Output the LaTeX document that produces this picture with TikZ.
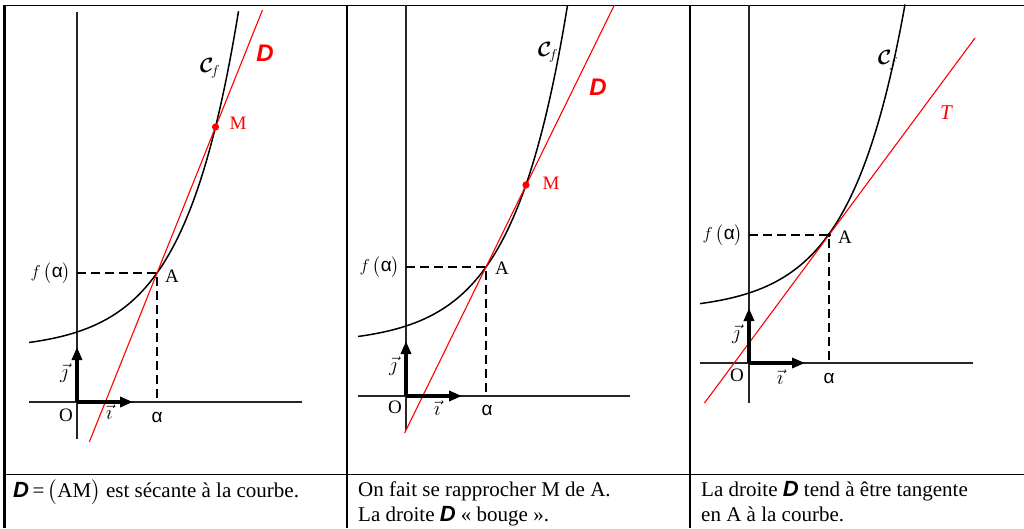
\documentclass[tikz,border=0pt]{standalone}
\usepackage{amsmath}
\usepackage{fontspec}
\setmainfont{Liberation Serif}
\newfontfamily\dsans{Liberation Sans}
\usetikzlibrary{arrows.meta}
\newcommand{\Dsym}[1]{{\dsans\bfseries\itshape\fontsize{#1}{#1}\selectfont D}}
\newcommand{\Cf}{$\boldsymbol{\mathcal{C}}_{\!f}$}
\newcommand{\alp}{{\dsans α}}
\newcommand{\fal}{$f$\,$\bigl($\alp$\bigr)$}
\newcommand{\vi}{$\vec{\imath}$}
\newcommand{\vj}{$\vec{\jmath}$}
\begin{document}
\begin{tikzpicture}[x=1pt,y=-1pt, line join=round,
 axis/.style={line width=1.2pt, draw=black!85},
 curve/.style={line width=1.5pt},
 redline/.style={line width=1.1pt, draw=red},
 dashline/.style={line width=2.8pt, dash pattern=on 9pt off 5pt},
 vect/.style={line width=3.3pt, -{Triangle[length=13pt,width=10pt]}},
 lbl/.style={font=\fontsize{19}{19}\selectfont, inner sep=0pt},
 vlbl/.style={font=\fontsize{21}{21}\selectfont, inner sep=0pt},
 cflbl/.style={font=\fontsize{21}{21}\selectfont, inner sep=0pt},
 txt/.style={font=\fontsize{21}{25}\selectfont, inner sep=0pt, anchor=base west},
 frame/.style={line width=1.1pt},
 mdot/.style={fill=red, draw=none}]
\useasboundingbox (0,0) rectangle (1024,528);

% table frame
\coordinate (TL) at (4.7,4.5);
\coordinate (BL) at (4.7,528);
\coordinate (TL2) at (3.5,5.5);
\coordinate (TR) at (1024,5.5);
\coordinate (C1t) at (347,5);
\coordinate (C1b) at (347,528);
\coordinate (C2t) at (690,5);
\coordinate (C2b) at (690,528);
\coordinate (Rl) at (4,474.5);
\coordinate (Rr) at (1024,474.5);
\draw[line width=2.5pt] (BL) -- (TL);
\draw[line width=1.7pt] (TL2) -- (TR);
\draw[frame] (C1t) -- (C1b);
\draw[frame] (C2t) -- (C2b);
\draw[frame] (Rl) -- (Rr);

% ---------- panel 1 ----------
\begin{scope}[shift={(77,402)},yscale=-1]
  \coordinate (O1) at (0,0);
  \coordinate (Yb1) at (0,-37);
  \coordinate (Yt1) at (0,390);
  \coordinate (Xl1) at (-48,0);
  \coordinate (Xr1) at (225,0);
  \coordinate (I1) at (56,0);
  \coordinate (J1) at (0,55);
  \coordinate (A1) at (80,129);
  \coordinate (FA1) at (0,129);
  \coordinate (XA1) at (80,0);
  \coordinate (M1) at (138.5,275);
  \coordinate (D1s) at (12.3,-40);
  \coordinate (D1e) at (185.5,392);
  \draw[axis] (Xl1) -- (Xr1);
  \draw[axis] (Yb1) -- (Yt1);
  \draw[curve] plot[domain=-48:161.5,samples=120] (\x,{52+18*exp(0.018167*\x)});
  \draw[dashline] (FA1) -- (A1) -- (XA1);
  \draw[redline] (D1s) -- (D1e);
  \draw[vect] (O1) -- (I1);
  \draw[vect] (O1) -- (J1);
  \fill[mdot] (M1) circle (3.6pt);
\end{scope}
\node[lbl] (o1) at (66,415) {O};
\node[vlbl] (i1) at (109,412) {\vi};
\node[vlbl] (j1) at (64,373) {\vj};
\node[lbl] (al1) at (157,417) {\alp};
\node[lbl, anchor=east] (fa1) at (71,273) {\fal};
\node[lbl] (a1) at (172,276) {A};
\node[lbl, text=red] (m1) at (238,123) {M};
\node[inner sep=0pt, text=red] (d1) at (265,53) {\Dsym{24}};
\node[cflbl] (cf1) at (210,68) {\Cf};

% ---------- panel 2 ----------
\begin{scope}[shift={(406,396)},yscale=-1]
  \coordinate (O2) at (0,0);
  \coordinate (Yb2) at (0,-34);
  \coordinate (Yt2) at (0,391);
  \coordinate (Xl2) at (-48,0);
  \coordinate (Xr2) at (224,0);
  \coordinate (I2) at (56,0);
  \coordinate (J2) at (0,55);
  \coordinate (A2) at (80,129);
  \coordinate (FA2) at (0,129);
  \coordinate (XA2) at (80,0);
  \coordinate (M2) at (120,211);
  \coordinate (D2s) at (-1.4,-37);
  \coordinate (D2e) at (208.4,391);
  \draw[axis] (Xl2) -- (Xr2);
  \draw[axis] (Yb2) -- (Yt2);
  \draw[curve] plot[domain=-48:161.5,samples=120] (\x,{52+18*exp(0.018167*\x)});
  \draw[dashline] (FA2) -- (A2) -- (XA2);
  \draw[redline] (D2s) -- (D2e);
  \draw[vect] (O2) -- (I2);
  \draw[vect] (O2) -- (J2);
  \fill[mdot] (M2) circle (3.6pt);
\end{scope}
\node[lbl] (o2) at (395,407) {O};
\node[vlbl] (i2) at (437,408) {\vi};
\node[vlbl] (j2) at (393,366) {\vj};
\node[lbl] (al2) at (487,410) {\alp};
\node[lbl, anchor=east] (fa2) at (400,267) {\fal};
\node[lbl] (a2) at (502,268) {A};
\node[lbl, text=red] (m2) at (551,183) {M};
\node[inner sep=0pt, text=red] (d2) at (598,87) {\Dsym{24}};
\node[cflbl] (cf2) at (548,52) {\Cf};

% ---------- panel 3 ----------
\begin{scope}[shift={(749,363)},yscale=-1]
  \coordinate (O3) at (0,0);
  \coordinate (Yb3) at (0,-40);
  \coordinate (Yt3) at (0,358);
  \coordinate (Xl3) at (-49,0);
  \coordinate (Xr3) at (224,0);
  \coordinate (I3) at (56,0);
  \coordinate (J3) at (0,55);
  \coordinate (A3) at (80,128);
  \coordinate (FA3) at (0,128);
  \coordinate (XA3) at (80,0);
  \coordinate (T3s) at (-44.5,-40);
  \coordinate (T3e) at (226,325);
  \draw[axis] (Xl3) -- (Xr3);
  \draw[axis] (Yb3) -- (Yt3);
  \draw[curve] plot[domain=-49:156,samples=120] (\x,{52+18*exp(0.018167*\x)});
  \draw[dashline] (FA3) -- (A3) -- (XA3);
  \draw[redline] (T3s) -- (T3e);
  \draw[vect] (O3) -- (I3);
  \draw[vect] (O3) -- (J3);
  \fill (A3) circle (2pt);
\end{scope}
\node[lbl] (o3) at (737,375) {O};
\node[vlbl] (i3) at (780,377) {\vi};
\node[vlbl] (j3) at (736,334) {\vj};
\node[lbl] (al3) at (829,378) {\alp};
\node[lbl, anchor=east] (fa3) at (743,235) {\fal};
\node[lbl] (a3) at (845,237) {A};
\node[inner sep=0pt, text=red, font=\fontsize{21}{21}\selectfont\itshape] (t3) at (946,113) {T};
\node[cflbl] (cf3) at (888,60) {\Cf};

% ---------- captions ----------
\node[txt] (cap1) at (13,497) {\Dsym{22}\,=\,$\bigl($AM$\bigr)$ est sécante à la courbe.};
\node[txt] (cap2a) at (358,496) {On fait se rapprocher M de A.};
\node[txt] (cap2b) at (358,521) {La droite \Dsym{22} «~bouge~».};
\node[txt] (cap3a) at (701,496) {La droite \Dsym{22} tend à être tangente};
\node[txt] (cap3b) at (701,521) {en A à la courbe.};
\end{tikzpicture}
\end{document}
